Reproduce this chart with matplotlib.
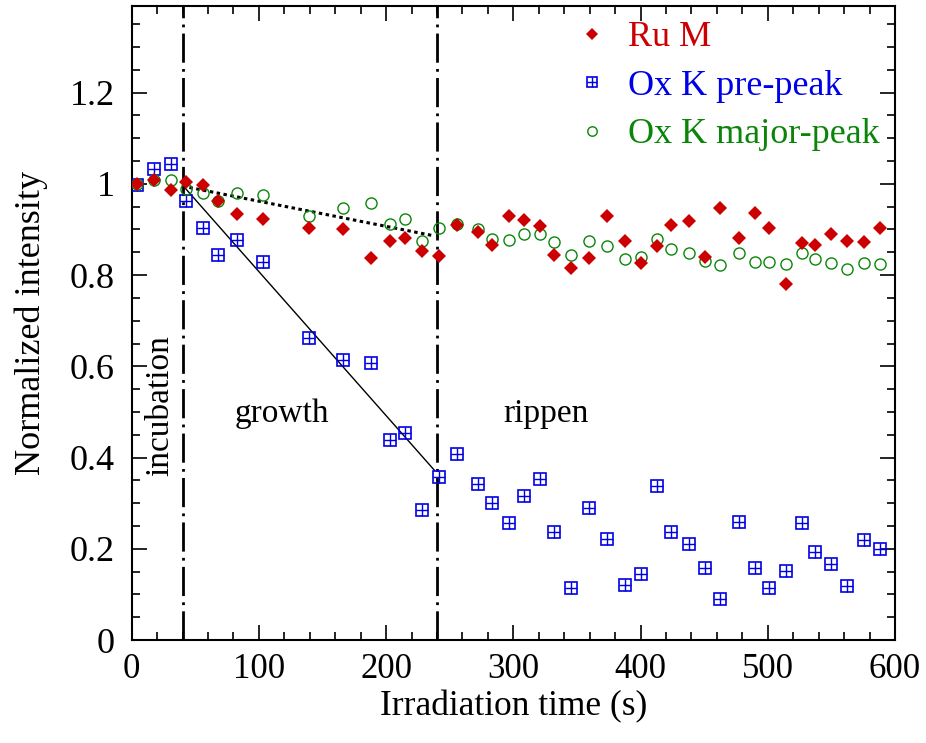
import matplotlib
matplotlib.use("Agg")
import matplotlib.pyplot as plt
from matplotlib.ticker import MultipleLocator, FuncFormatter

plt.rcParams['font.family'] = ['Liberation Serif', 'DejaVu Serif']
plt.rcParams['lines.scale_dashes'] = False

# ---- data ----
time_s = [4.4, 17.5, 30.6, 42.6, 55.7, 67.5, 82.5, 102.9, 139.5, 166.2, 188.5, 203.4,
          215.2, 228.3, 241.3, 256.0, 272.2, 283.5, 296.3, 308.4, 320.7, 332.2, 345.5,
          359.4, 373.5, 387.4, 400.5, 413.1, 424.1, 437.9, 450.3, 462.6, 477.2, 490.3,
          501.3, 514.4, 526.7, 537.4, 549.8, 562.3, 575.9, 588.2]

ru_m = [1.000, 1.009, 0.987, 1.003, 0.998, 0.963, 0.933, 0.924, 0.903, 0.900, 0.838, 0.874,
        0.882, 0.853, 0.841, 0.909, 0.895, 0.865, 0.930, 0.920, 0.907, 0.845, 0.816,
        0.838, 0.930, 0.874, 0.827, 0.864, 0.909, 0.919, 0.840, 0.947, 0.882, 0.937,
        0.903, 0.781, 0.871, 0.865, 0.889, 0.875, 0.873, 0.903]

ox_pre = [0.998, 1.032, 1.044, 0.962, 0.904, 0.844, 0.878, 0.828, 0.662, 0.613, 0.608, 0.438,
          0.453, 0.285, 0.358, 0.408, 0.342, 0.301, 0.257, 0.316, 0.353, 0.236, 0.113,
          0.290, 0.221, 0.121, 0.144, 0.337, 0.237, 0.210, 0.158, 0.090, 0.259, 0.157,
          0.115, 0.152, 0.256, 0.193, 0.167, 0.119, 0.219, 0.199]

ox_major = [1.000, 1.009, 1.009, 0.988, 0.979, 0.963, 0.980, 0.976, 0.930, 0.948, 0.959, 0.911,
            0.922, 0.875, 0.903, 0.911, 0.900, 0.880, 0.876, 0.890, 0.891, 0.873, 0.844,
            0.875, 0.864, 0.836, 0.840, 0.879, 0.858, 0.849, 0.830, 0.822, 0.849, 0.828,
            0.828, 0.824, 0.849, 0.836, 0.827, 0.814, 0.827, 0.825]

phase_bounds = [40, 240]
growth_fit_x = [40, 238]
growth_fit_y = [0.997, 0.372]
ru_fit_x = [40, 236]
ru_fit_y = [0.995, 0.887]

phase_labels = ["incubation", "growth", "rippen"]
labels = ["Ru M", "Ox K pre-peak", "Ox K major-peak"]

RED = '#CC0000'
BLUE = '#0000E6'
GREEN = '#0A850A'

fig = plt.figure(figsize=(9.26, 7.43), dpi=100)
ax = fig.add_axes([0.1422, 0.1386, 0.8243, 0.8534])

for xb in phase_bounds:
    ax.axvline(xb, color='black', lw=2.0, linestyle=(0, (21, 4.5, 2, 4.5)), zorder=1)

ax.plot(growth_fit_x, growth_fit_y, color='black', lw=1.0, zorder=2)
ax.plot(ru_fit_x, ru_fit_y, color='black', lw=2.2, linestyle=(0, (2.5, 2.5)), zorder=2)

h_ru, = ax.plot(time_s, ru_m, linestyle='none', marker='D', markersize=7.6,
                color=RED, markeredgewidth=0, zorder=4)
h_sq, = ax.plot(time_s, ox_pre, linestyle='none', marker='s', markersize=8,
                markerfacecolor='none', markeredgecolor=BLUE, markeredgewidth=1.2, zorder=3)
h_pl, = ax.plot(time_s, ox_pre, linestyle='none', marker='+', markersize=8,
                color=BLUE, markeredgewidth=1.0, zorder=3)
h_ci, = ax.plot(time_s, ox_major, linestyle='none', marker='o', markersize=8,
                markerfacecolor='none', markeredgecolor=GREEN, markeredgewidth=1.0, zorder=3)

ax.set_xlim(0, 600)
ax.set_ylim(0, 1.39)
ax.xaxis.set_major_locator(MultipleLocator(100))
ax.xaxis.set_minor_locator(MultipleLocator(20))
ax.yaxis.set_major_locator(MultipleLocator(0.2))
ax.yaxis.set_minor_locator(MultipleLocator(0.05))
ax.yaxis.set_major_formatter(FuncFormatter(lambda v, p: '%g' % round(v, 2)))

ax.tick_params(which='both', direction='in', top=True, right=True, width=1.2)
ax.tick_params(which='major', length=11)
ax.tick_params(which='minor', length=6)
ax.tick_params(axis='x', pad=9, labelsize=25)
ax.tick_params(axis='y', pad=12, labelsize=26)
for s in ax.spines.values():
    s.set_linewidth(1.5)

ax.set_xlabel("Irradiation time (s)", fontsize=25.5, labelpad=3)
ax.set_ylabel("Normalized intensity", fontsize=26, labelpad=16)

ax.text(22.2, 0.513, phase_labels[0], rotation=90, ha='center', va='center', fontsize=24)
ax.text(118, 0.497, phase_labels[1], ha='center', va='center', fontsize=24)
ax.text(326, 0.497, phase_labels[2], ha='center', va='center', fontsize=24)

leg = ax.legend([h_ru, (h_sq, h_pl), h_ci], labels, loc='upper left',
                bbox_to_anchor=(0.5813, 0.976), frameon=False, fontsize=26,
                handlelength=0.9, handletextpad=0.55, labelspacing=0.42,
                borderpad=0, borderaxespad=0, markerscale=0.85)
for txt, c in zip(leg.get_texts(), [RED, BLUE, GREEN]):
    txt.set_color(c)

fig.savefig("out.png", dpi=100)
